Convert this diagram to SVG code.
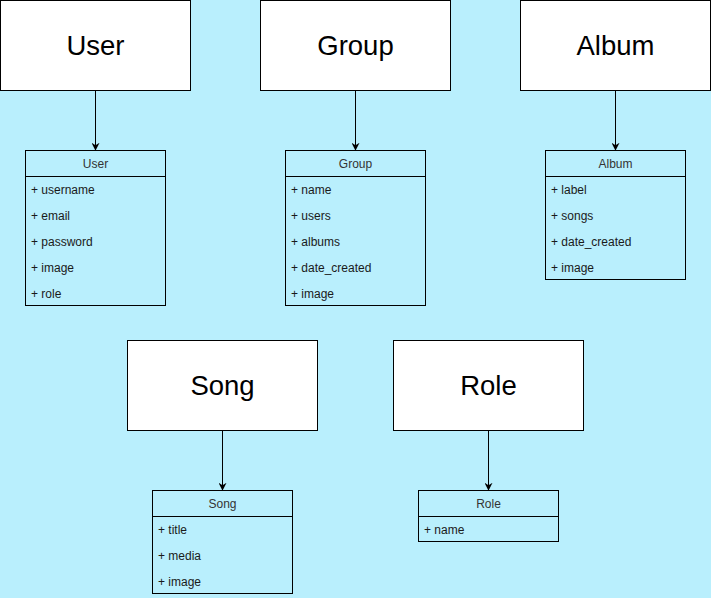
<svg xmlns="http://www.w3.org/2000/svg" width="711" height="598" viewBox="0 0 711 598">
<style>
.big{fill:#ffffff;stroke:#000000;stroke-width:1}
.bt{font-family:"Liberation Sans",Arial,sans-serif;font-size:27.5px;fill:#000000;text-anchor:middle}
.cls{fill:none;stroke:#000000;stroke-width:1}
.ht{font-family:"Liberation Sans",Arial,sans-serif;font-size:12px;fill:#333333;text-anchor:middle}
.rt{font-family:"Liberation Sans",Arial,sans-serif;font-size:12px;fill:#1a1a1a}
.conn{stroke:#000000;stroke-width:1;fill:none;marker-end:url(#arr)}
</style>
<defs>
<marker id="arr" viewBox="0 0 10 10" refX="9" refY="5" markerWidth="8" markerHeight="8" markerUnits="userSpaceOnUse" orient="auto">
<path d="M0,0 L10,5 L0,10 L3,5 Z" fill="#000000"/>
</marker>
</defs>
<rect x="0" y="0" width="711" height="598" fill="#b9effd"/>
<g id="connectors">
<line class="conn" x1="95.5" y1="90.5" x2="95.5" y2="150"/>
<line class="conn" x1="355.5" y1="90.5" x2="355.5" y2="150"/>
<line class="conn" x1="615.5" y1="90.5" x2="615.5" y2="150"/>
<line class="conn" x1="222.5" y1="430.5" x2="222.5" y2="490"/>
<line class="conn" x1="488.5" y1="430.5" x2="488.5" y2="490"/>
</g>
<g id="user-box"><rect class="big" x="0.5" y="0.5" width="190" height="90"/><text class="bt" x="95.5" y="54.5">User</text></g>
<g id="group-box"><rect class="big" x="260.5" y="0.5" width="190" height="90"/><text class="bt" x="355.5" y="54.5">Group</text></g>
<g id="album-box"><rect class="big" x="520.5" y="0.5" width="190" height="90"/><text class="bt" x="615.5" y="54.5">Album</text></g>
<g id="song-box"><rect class="big" x="127.5" y="340.5" width="190" height="90"/><text class="bt" x="222.5" y="394.5">Song</text></g>
<g id="role-box"><rect class="big" x="393.5" y="340.5" width="190" height="90"/><text class="bt" x="488.5" y="394.5">Role</text></g>
<g id="user-class">
<rect class="cls" x="25.5" y="150.5" width="140" height="155"/>
<line class="cls" x1="25.5" y1="176.5" x2="165.5" y2="176.5"/>
<text class="ht" x="95.5" y="168">User</text>
<text class="rt" x="31" y="194">+ username</text>
<text class="rt" x="31" y="220">+ email</text>
<text class="rt" x="31" y="246">+ password</text>
<text class="rt" x="31" y="272">+ image</text>
<text class="rt" x="31" y="298">+ role</text>
</g>
<g id="group-class">
<rect class="cls" x="285.5" y="150.5" width="140" height="155"/>
<line class="cls" x1="285.5" y1="176.5" x2="425.5" y2="176.5"/>
<text class="ht" x="355.5" y="168">Group</text>
<text class="rt" x="291" y="194">+ name</text>
<text class="rt" x="291" y="220">+ users</text>
<text class="rt" x="291" y="246">+ albums</text>
<text class="rt" x="291" y="272">+ date_created</text>
<text class="rt" x="291" y="298">+ image</text>
</g>
<g id="album-class">
<rect class="cls" x="545.5" y="150.5" width="140" height="129"/>
<line class="cls" x1="545.5" y1="176.5" x2="685.5" y2="176.5"/>
<text class="ht" x="615.5" y="168">Album</text>
<text class="rt" x="551" y="194">+ label</text>
<text class="rt" x="551" y="220">+ songs</text>
<text class="rt" x="551" y="246">+ date_created</text>
<text class="rt" x="551" y="272">+ image</text>
</g>
<g id="song-class">
<rect class="cls" x="152.5" y="490.5" width="140" height="103"/>
<line class="cls" x1="152.5" y1="516.5" x2="292.5" y2="516.5"/>
<text class="ht" x="222.5" y="508">Song</text>
<text class="rt" x="158" y="534">+ title</text>
<text class="rt" x="158" y="560">+ media</text>
<text class="rt" x="158" y="586">+ image</text>
</g>
<g id="role-class">
<rect class="cls" x="418.5" y="490.5" width="140" height="51"/>
<line class="cls" x1="418.5" y1="516.5" x2="558.5" y2="516.5"/>
<text class="ht" x="488.5" y="508">Role</text>
<text class="rt" x="424" y="534">+ name</text>
</g>
</svg>
